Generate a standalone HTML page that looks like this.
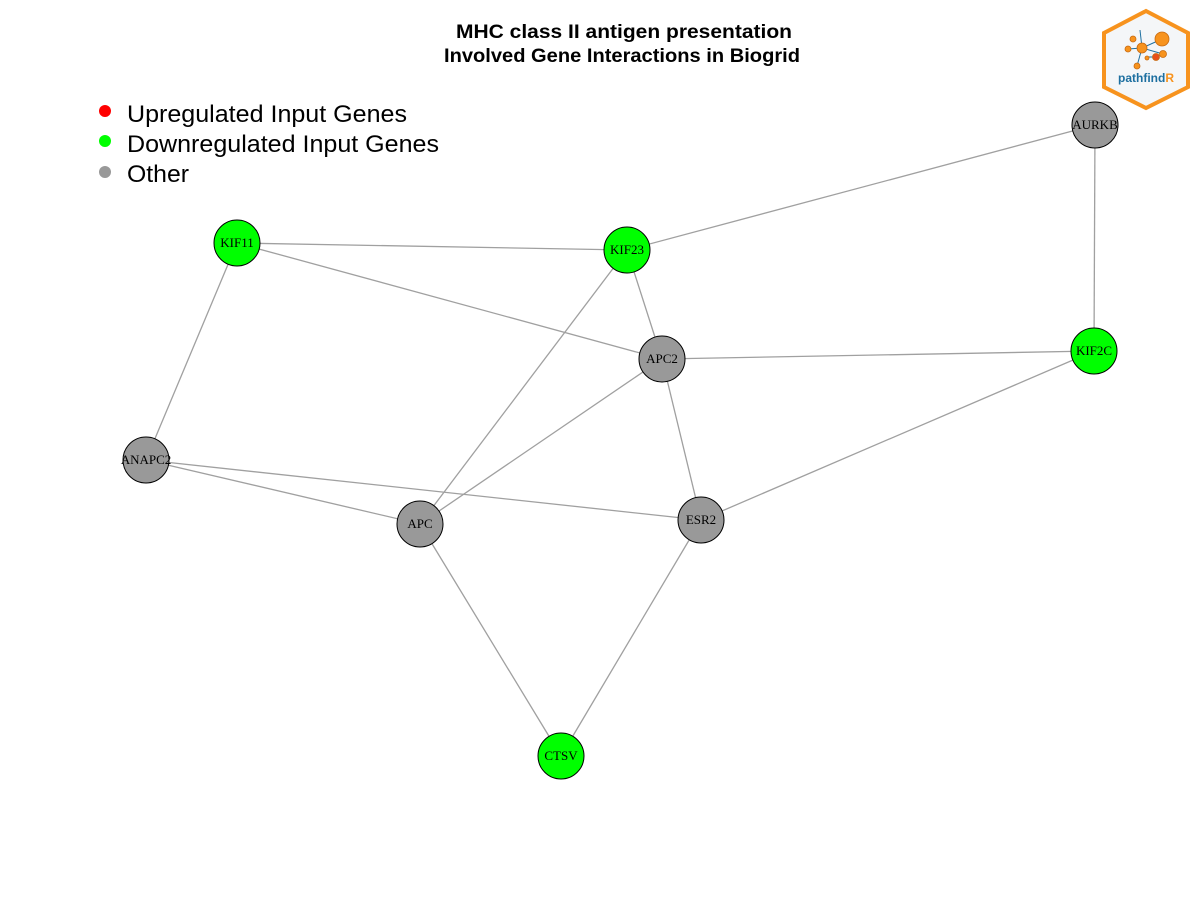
<!DOCTYPE html>
<html><head><style>
body{margin:0;background:#fff;}
svg{display:block;}
</style></head><body>
<svg width="1200" height="900" xmlns="http://www.w3.org/2000/svg">
<rect width="1200" height="900" fill="#fff"/>
<text x="624" y="38" text-anchor="middle" font-family="Liberation Sans, sans-serif" font-weight="bold" font-size="19" textLength="336" lengthAdjust="spacingAndGlyphs">MHC class II antigen presentation</text>
<text x="622" y="62" text-anchor="middle" font-family="Liberation Sans, sans-serif" font-weight="bold" font-size="19" textLength="356" lengthAdjust="spacingAndGlyphs">Involved Gene Interactions in Biogrid</text>
<g font-family="Liberation Sans, sans-serif" font-size="24">
<circle cx="105" cy="111" r="6" fill="#ff0000"/><text x="127" y="122" textLength="280" lengthAdjust="spacingAndGlyphs">Upregulated Input Genes</text>
<circle cx="105" cy="141" r="6" fill="#00ff00"/><text x="127" y="152" textLength="312" lengthAdjust="spacingAndGlyphs">Downregulated Input Genes</text>
<circle cx="105" cy="172" r="6" fill="#999"/><text x="127" y="182" textLength="62" lengthAdjust="spacingAndGlyphs">Other</text>
</g>
<g stroke="#a0a0a0" stroke-width="1.3">
<line x1="237" y1="243" x2="627" y2="250"/>
<line x1="237" y1="243" x2="662" y2="359"/>
<line x1="237" y1="243" x2="146" y2="460"/>
<line x1="627" y1="250" x2="1095" y2="125"/>
<line x1="627" y1="250" x2="662" y2="359"/>
<line x1="627" y1="250" x2="420" y2="524"/>
<line x1="1095" y1="125" x2="1094" y2="351"/>
<line x1="662" y1="359" x2="1094" y2="351"/>
<line x1="662" y1="359" x2="420" y2="524"/>
<line x1="662" y1="359" x2="701" y2="520"/>
<line x1="1094" y1="351" x2="701" y2="520"/>
<line x1="146" y1="460" x2="420" y2="524"/>
<line x1="146" y1="460" x2="701" y2="520"/>
<line x1="420" y1="524" x2="561" y2="756"/>
<line x1="701" y1="520" x2="561" y2="756"/>
</g>
<g stroke="#000" stroke-width="1">
<circle cx="237" cy="243" r="23" fill="#00ff00"/>
<circle cx="627" cy="250" r="23" fill="#00ff00"/>
<circle cx="1095" cy="125" r="23" fill="#999"/>
<circle cx="662" cy="359" r="23" fill="#999"/>
<circle cx="1094" cy="351" r="23" fill="#00ff00"/>
<circle cx="146" cy="460" r="23" fill="#999"/>
<circle cx="420" cy="524" r="23" fill="#999"/>
<circle cx="701" cy="520" r="23" fill="#999"/>
<circle cx="561" cy="756" r="23" fill="#00ff00"/>
</g>
<g font-family="Liberation Serif, serif" font-size="13" text-anchor="middle">
<text x="237" y="247">KIF11</text>
<text x="627" y="254">KIF23</text>
<text x="1095" y="129">AURKB</text>
<text x="662" y="363">APC2</text>
<text x="1094" y="355">KIF2C</text>
<text x="146" y="464">ANAPC2</text>
<text x="420" y="528">APC</text>
<text x="701" y="524">ESR2</text>
<text x="561" y="760">CTSV</text>
</g>
<polygon points="1146,11 1188,33 1188,87 1146,108 1104,87 1104,33" fill="#f4f6f8" stroke="#f7931e" stroke-width="4"/>
<g stroke="#1d6fa0" stroke-width="1">
<line x1="1142" y1="48" x2="1162" y2="39"/><line x1="1142" y1="48" x2="1128" y2="49"/><line x1="1142" y1="48" x2="1140" y2="30"/><line x1="1142" y1="48" x2="1163" y2="54"/><line x1="1142" y1="48" x2="1137" y2="66"/><line x1="1148" y1="57" x2="1156" y2="57"/>
</g>
<g fill="#f7931e" stroke="#c76a10" stroke-width="0.8">
<circle cx="1162" cy="39" r="7"/><circle cx="1142" cy="48" r="5"/><circle cx="1133" cy="39" r="3"/><circle cx="1128" cy="49" r="3"/><circle cx="1163" cy="54" r="3.5"/><circle cx="1137" cy="66" r="3"/><circle cx="1147" cy="58" r="2"/>
<circle cx="1156" cy="57" r="3.5" fill="#e8501a"/>
</g>
<text x="1146" y="82" text-anchor="middle" font-family="Liberation Sans, sans-serif" font-weight="bold" font-size="12" fill="#1d6fa0">pathfind<tspan fill="#f7931e">R</tspan></text>
</svg>
</body></html>
